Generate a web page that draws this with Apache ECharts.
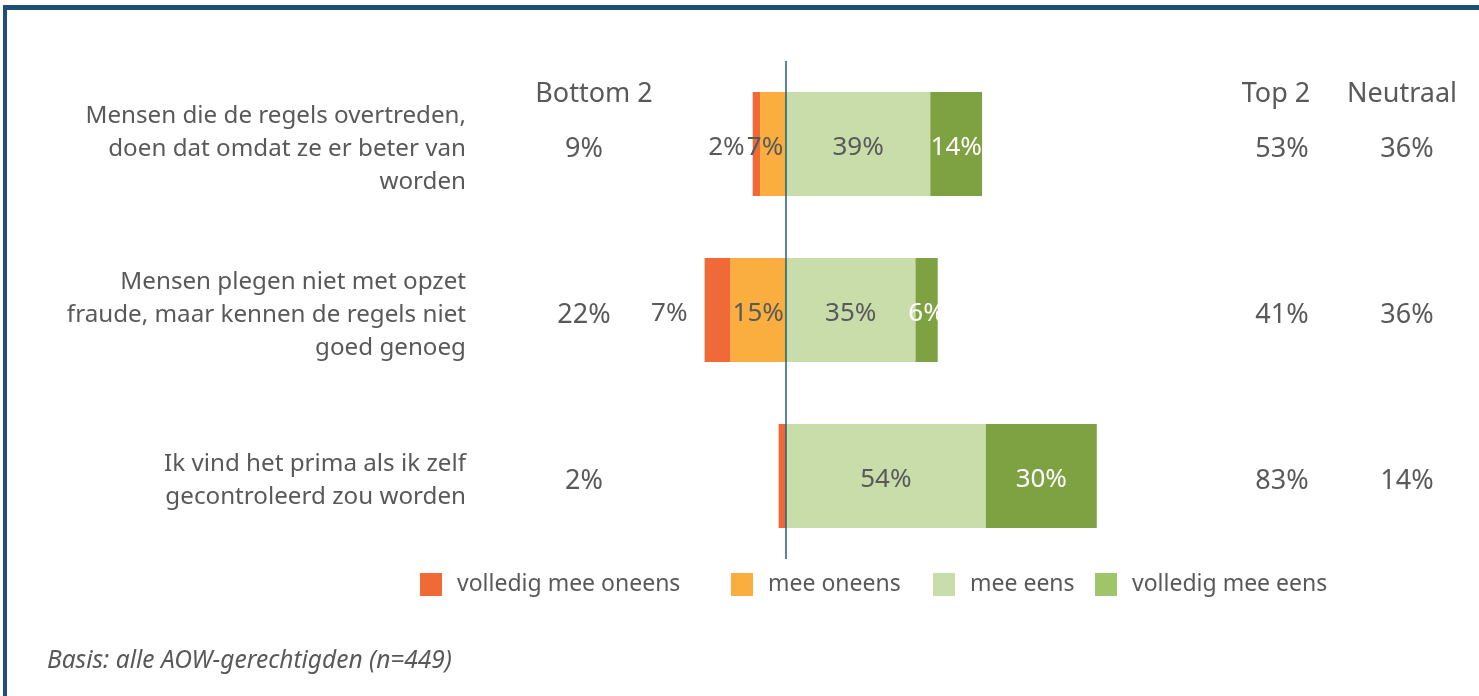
<!DOCTYPE html>
<html>
<head>
<meta charset="utf-8">
<script src="https://cdn.jsdelivr.net/npm/echarts@6/dist/echarts.min.js"></script>
<style>
  html, body { margin: 0; padding: 0; background: #fff; }
  #chart { width: 1479px; height: 696px; }
</style>
</head>
<body>
<div id="chart"></div>
<script>
// stellingen
const categories = [
  'Mensen die de regels overtreden,\ndoen dat omdat ze er beter van\nworden',
  'Mensen plegen niet met opzet\nfraude, maar kennen de regels niet\ngoed genoeg',
  'Ik vind het prima als ik zelf\ngecontroleerd zou worden'
];
const seriesNames = ['volledig mee oneens', 'mee oneens', 'mee eens', 'volledig mee eens'];
const volledigOneens = [2, 7, 2];
const meeOneens = [7, 15, 0];
const meeEens = [39, 35, 54];
const volledigEens = [14, 6, 30];
// kolommen rechts / links
const bottom2 = [9, 22, 2];
const top2 = [53, 41, 83];
const neutraal = [36, 36, 14];
const headers = ['Bottom 2', 'Top 2', 'Neutraal'];
const footnote = 'Basis: alle AOW-gerechtigden (n=449)';

const grey = '#595959';
const font = 'Noto Sans';
const colors = ['#EF6A37', '#FBAE40', '#C9DDAA', '#7EA142'];
const pct = (v) => Math.abs(v) + '%';

const chart = echarts.init(document.getElementById('chart'));

const labelBase = {
  show: true,
  fontFamily: font,
  fontSize: 26,
  color: grey,
  offset: [0, 4],
  formatter: (p) => pct(p.value)
};

// tekstkolommen staan in een tweede (iets lager geplaatst) grid
function sideAxis(values, position, margin) {
  return {
    type: 'category',
    gridIndex: 1,
    inverse: true,
    position: position,
    data: values.map(pct),
    axisLine: { show: false },
    axisTick: { show: false },
    axisLabel: {
      margin: margin,
      align: 'center',
      fontFamily: font,
      fontSize: 27,
      color: grey
    }
  };
}

let options = {
  backgroundColor: '#fff',
  animation: false,
  textStyle: { fontFamily: font },
  grid: [
    { left: 601, right: 323, top: 61, bottom: 137 },
    { left: 601, right: 323, top: 66, bottom: 132 }
  ],
  xAxis: [
    { type: 'value', min: -50, max: 100, show: false },
    { type: 'value', gridIndex: 1, min: -50, max: 100, show: false }
  ],
  yAxis: [
    {
      type: 'category',
      inverse: true,
      data: categories,
      show: false
    },
    {
      type: 'category',
      gridIndex: 1,
      inverse: true,
      data: categories,
      axisLine: { show: false },
      axisTick: { show: false },
      axisLabel: {
        margin: 135,
        align: 'right',
        fontFamily: font,
        fontSize: 24.2,
        lineHeight: 33,
        color: grey
      }
    },
    sideAxis(bottom2, 'left', 17),
    sideAxis(top2, 'right', 126),
    sideAxis(neutraal, 'right', 251)
  ],
  legend: [
    { left: 415, name: seriesNames[0] },
    { left: 726, name: seriesNames[1] },
    { left: 928, name: seriesNames[2] },
    { left: 1090, name: seriesNames[3], swatch: '#A0C46A' }
  ].map((l) => ({
    left: l.left,
    top: 568,
    icon: 'rect',
    itemWidth: 22,
    itemHeight: 23,
    selectedMode: false,
    data: [l.swatch ? { name: l.name, itemStyle: { color: l.swatch } } : l.name],
    textStyle: { fontFamily: font, fontSize: 23, color: grey, padding: [0, 0, 0, 10] }
  })),
  series: [
    {
      name: seriesNames[1],
      type: 'bar',
      stack: 'totaal',
      barWidth: 104,
      itemStyle: { color: colors[1] },
      label: Object.assign({}, labelBase, { position: 'inside' }),
      data: meeOneens.map((v, i) => ({
        value: -v,
        label: { show: v > 0, offset: [i === 0 ? -8 : 0, 4] }
      }))
    },
    {
      name: seriesNames[0],
      type: 'bar',
      stack: 'totaal',
      barWidth: 104,
      itemStyle: { color: colors[0] },
      label: Object.assign({}, labelBase, { position: 'left' }),
      data: volledigOneens.map((v, i) => ({
        value: -v,
        label: { show: i < 2, distance: i === 1 ? 17 : 8 }
      }))
    },
    {
      name: seriesNames[2],
      type: 'bar',
      stack: 'totaal',
      barWidth: 104,
      itemStyle: { color: colors[2] },
      label: Object.assign({}, labelBase, { position: 'inside' }),
      data: meeEens,
      markLine: {
        silent: true,
        symbol: 'none',
        label: { show: false },
        lineStyle: { color: '#1F5F7A', width: 1.5, type: 'solid' },
        data: [{ xAxis: 0 }]
      }
    },
    {
      name: seriesNames[3],
      type: 'bar',
      stack: 'totaal',
      barWidth: 104,
      itemStyle: { color: colors[3] },
      label: Object.assign({}, labelBase, { position: 'inside', color: '#fff' }),
      data: volledigEens
    }
  ],
  graphic: [
    // kader
    { type: 'rect', shape: { x: 3, y: 5, width: 1476, height: 5 }, style: { fill: '#1F4E79' } },
    { type: 'rect', shape: { x: 3, y: 5, width: 4, height: 691 }, style: { fill: '#1F4E79' } },
    // kolomkoppen
    ...[594, 1276, 1402].map((x, i) => ({
      type: 'text',
      x: x,
      y: 94,
      style: {
        text: headers[i],
        fill: grey,
        font: '27px "' + font + '"',
        textAlign: 'center',
        textVerticalAlign: 'middle'
      }
    })),
    {
      type: 'text',
      x: 47,
      y: 661,
      style: {
        text: footnote,
        fill: grey,
        font: 'italic 24.5px "' + font + '"',
        textAlign: 'left',
        textVerticalAlign: 'middle'
      }
    }
  ]
};

chart.setOption(options);
</script>
</body>
</html>
